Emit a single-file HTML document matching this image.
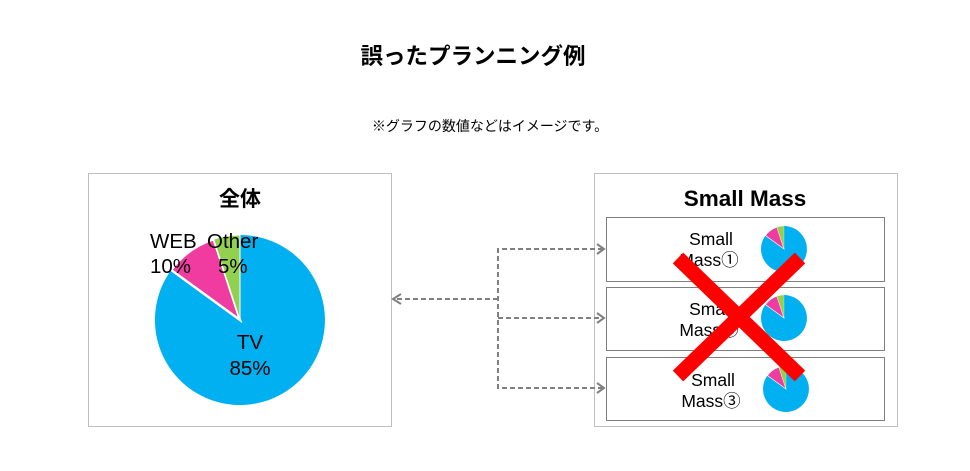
<!DOCTYPE html>
<html><head><meta charset="utf-8"><style>
html,body{margin:0;padding:0;background:#fff;}
svg text{font-family:"Liberation Sans","Noto Sans CJK JP",sans-serif;}
</style></head><body>
<svg width="970" height="466" viewBox="0 0 970 466" xmlns="http://www.w3.org/2000/svg">
<defs>
<g id="pie">
<path d="M0,0 L0,-85 A85,85 0 1 1 -68.8,-50 Z" fill="#00b0f0"/>
<path d="M0,0 L-68.8,-50 A85,85 0 0 1 -26.3,-80.8 Z" fill="#f03ca0" stroke="#fff" stroke-width="2.5"/>
<path d="M0,0 L-26.3,-80.8 A85,85 0 0 1 0,-85 Z" fill="#92d050" stroke="#fff" stroke-width="1"/>
</g>
</defs>
<text x="473" y="64" text-anchor="middle" font-size="22.5" font-weight="bold" fill="#000">誤ったプランニング例</text>
<text x="490" y="131" text-anchor="middle" font-size="14" fill="#000">※グラフの数値などはイメージです。</text>

<rect x="88.5" y="173.5" width="303" height="253" fill="#fff" stroke="#bfbfbf"/>
<text x="240" y="206" text-anchor="middle" font-size="21" font-weight="bold">全体</text>
<use href="#pie" transform="translate(240,320)"/>
<text x="150" y="248" font-size="20.5">WEB</text>
<text x="150" y="273" font-size="20.5">10%</text>
<text x="207" y="248" font-size="20.5">Other</text>
<text x="218" y="273" font-size="20.5">5%</text>
<text x="250" y="349" text-anchor="middle" font-size="20.5">TV</text>
<text x="250" y="375" text-anchor="middle" font-size="20.5">85%</text>

<rect x="594.5" y="173.5" width="303" height="253" fill="#fff" stroke="#bfbfbf"/>
<text x="745" y="206" text-anchor="middle" font-size="22.5" font-weight="bold">Small Mass</text>
<rect x="606.5" y="217.5" width="278" height="64" fill="#fff" stroke="#7f7f7f"/>
<rect x="606.5" y="287.5" width="278" height="63" fill="#fff" stroke="#7f7f7f"/>
<rect x="606.5" y="357.5" width="278" height="63" fill="#fff" stroke="#7f7f7f"/>
<text x="711" y="245" text-anchor="middle" font-size="17.5">Small</text>
<text x="709" y="266" text-anchor="middle" font-size="17.5">Mass①</text>
<text x="711" y="315" text-anchor="middle" font-size="17.5">Small</text>
<text x="709" y="336" text-anchor="middle" font-size="17.5">Mass②</text>
<text x="713" y="386" text-anchor="middle" font-size="17.5">Small</text>
<text x="711" y="407" text-anchor="middle" font-size="17.5">Mass③</text>
<use href="#pie" transform="translate(784,249) scale(0.27)"/>
<use href="#pie" transform="translate(784,318) scale(0.27)"/>
<use href="#pie" transform="translate(786,389) scale(0.27)"/>

<g stroke="#808080" stroke-width="2" stroke-dasharray="5,3" fill="none">
<line x1="498" y1="299" x2="394" y2="299"/>
<polyline points="603,249 498,249 498,388 603,388"/>
<line x1="498" y1="318" x2="603" y2="318"/>
</g>
<g stroke="#808080" stroke-width="2" fill="none">
<polyline points="401,294 393,299 401,304"/>
<polyline points="597,244 604,249 597,254"/>
<polyline points="597,313 604,318 597,323"/>
<polyline points="597,383 604,388 597,393"/>
</g>

<g stroke="#ff0000" stroke-width="15">
<line x1="678" y1="258" x2="800" y2="376"/>
<line x1="800" y1="258" x2="678" y2="376"/>
</g>
</svg>
</body></html>
